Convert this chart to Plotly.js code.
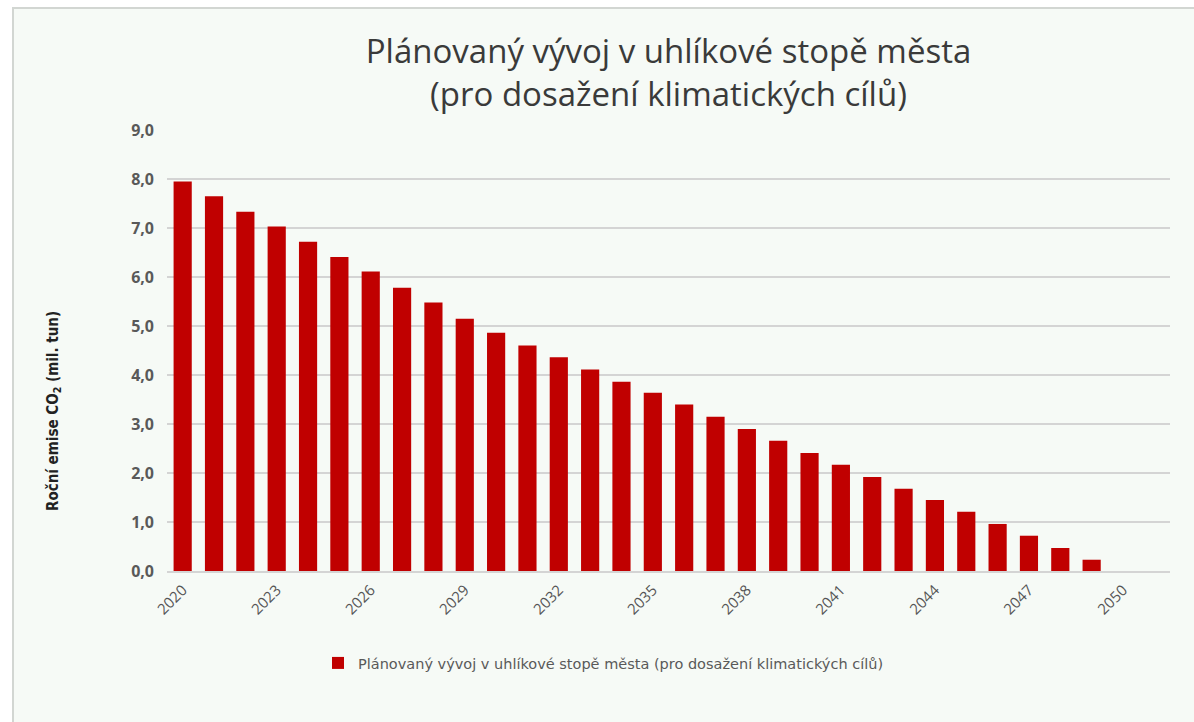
<!DOCTYPE html>
<html>
<head>
<meta charset="utf-8">
<script src="https://cdn.plot.ly/plotly-3.0.1.min.js"></script>
<style>html,body{margin:0;padding:0;background:#ffffff;}#chart{width:1194px;height:722px;}</style>
</head>
<body>
<div id="chart"></div>
<script>
const years = [2020,2021,2022,2023,2024,2025,2026,2027,2028,2029,2030,2031,2032,2033,2034,2035,2036,2037,2038,2039,2040,2041,2042,2043,2044,2045,2046,2047,2048,2049,2050];
const emissions = [7.95,7.65,7.33,7.03,6.72,6.41,6.11,5.78,5.48,5.15,4.86,4.60,4.36,4.11,3.86,3.64,3.40,3.15,2.90,2.66,2.41,2.17,1.92,1.68,1.45,1.21,0.96,0.72,0.47,0.23,0];
const tickYears = [2020,2023,2026,2029,2032,2035,2038,2041,2044,2047,2050];
const seriesName = 'Plánovaný vývoj v uhlíkové stopě města (pro dosažení klimatických cílů)';
const chartTitle = 'Plánovaný vývoj v uhlíkové stopě města<br>(pro dosažení klimatických cílů)';
const yTitle = 'Roční emise CO<sub>2</sub> (mil. tun)';

const trace = {
  type: 'bar',
  x: years,
  y: emissions,
  name: seriesName,
  width: 0.58,
  marker: {color: '#c00000'},
  showlegend: true,
  hoverinfo: 'x+y'
};

const PL = 167, PW = 1003, PB = 571, PH = 441;

const layout = {
  width: 1194,
  height: 722,
  margin: {l: 167, r: 24, t: 130, b: 151},
  paper_bgcolor: '#ffffff',
  plot_bgcolor: 'rgba(0,0,0,0)',
  separators: ', ',
  title: {
    text: chartTitle,
    x: 0.5, xref: 'paper', xanchor: 'center',
    y: 1 - 63 / 722, yref: 'container', yanchor: 'middle',
    font: {family: 'Open Sans, sans-serif', size: 33, color: '#3a3a3a'}
  },
  xaxis: {
    range: [2019.5, 2051.5],
    tickmode: 'array',
    tickvals: tickYears,
    ticktext: tickYears.map(String),
    tickangle: -45,
    tickfont: {family: 'Open Sans, sans-serif', size: 15, color: '#555555'},
    ticklabelstandoff: 3,
    showgrid: false,
    zeroline: false,
    showline: true,
    linecolor: '#d4d4d4',
    linewidth: 1.5,
    ticks: ''
  },
  yaxis: {
    range: [0, 9],
    tickmode: 'linear',
    tick0: 0,
    dtick: 1,
    tickformat: '.1f',
    tickfont: {family: 'Open Sans, sans-serif', size: 16, color: '#595959', weight: 'bold'},
    ticklabelstandoff: 12,
    showgrid: true,
    gridcolor: '#d4d4d4',
    gridwidth: 1.5,
    zeroline: false,
    showline: false,
    ticks: ''
  },
  annotations: [{
    text: yTitle,
    xref: 'paper', yref: 'paper',
    x: (53 - PL) / PW, y: (PB - 411) / PH,
    xanchor: 'center', yanchor: 'middle',
    textangle: -90,
    showarrow: false,
    font: {family: 'DejaVu Sans Condensed, Open Sans, sans-serif', size: 15, color: '#222222', weight: 'bold'}
  }],
  legend: {
    orientation: 'h',
    x: (318 - PL) / PW, xanchor: 'left',
    y: (PB - 663) / PH, yanchor: 'middle',
    bgcolor: 'rgba(0,0,0,0)',
    font: {family: 'DejaVu Sans, sans-serif', size: 14.5, color: '#595959'},
    itemwidth: 30
  },
  shapes: [{
    type: 'rect', xref: 'paper', yref: 'paper', layer: 'below',
    x0: (13 - PL) / PW, x1: (1205 - PL) / PW,
    y0: (PB - 735) / PH, y1: (PB - 8) / PH,
    fillcolor: '#f6faf6',
    line: {color: '#d2d6d2', width: 2}
  }]
};

Plotly.newPlot('chart', [trace], layout, {displayModeBar: false, staticPlot: true});
</script>
</body>
</html>
